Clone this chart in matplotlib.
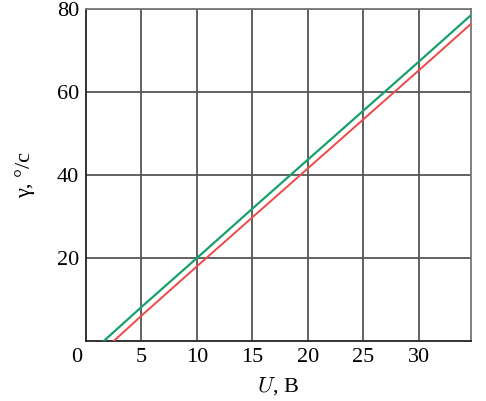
import matplotlib
matplotlib.use("Agg")
import matplotlib.pyplot as plt

plt.rcParams['font.family'] = ['Liberation Serif', 'DejaVu Serif']
plt.rcParams['mathtext.fontset'] = 'cm'

# green curve
u_green = [1.6, 5, 10, 15, 20, 25, 30, 34.7]
g_green = [0, 8.2, 20.0, 31.9, 43.7, 55.5, 67.3, 78.5]
# red curve
u_red = [2.5, 5, 10, 15, 20, 25, 30, 34.7]
g_red = [0, 6.1, 18.0, 29.8, 41.6, 53.4, 65.2, 76.4]

x_ticks = [5, 10, 15, 20, 25, 30]
y_ticks = [20, 40, 60, 80]

fig = plt.figure(figsize=(4.86, 4.01), dpi=100)
ax = fig.add_axes([0.177, 0.1496, 0.792, 0.828])

ax.plot(u_green, g_green, color='#17a06a', lw=1.6, zorder=3)
ax.plot(u_red, g_red, color='#f04848', lw=1.4, zorder=3)

ax.set_xlim(0, 34.7)
ax.set_ylim(0, 80)
ax.set_xticks(x_ticks)
ax.set_yticks(y_ticks)
ax.tick_params(length=0, labelsize=16, pad=5)
ax.grid(True, color='#555555', lw=1.3)
for s in ['top', 'right']:
    ax.spines[s].set_color('#777777')
for s in ['left', 'bottom']:
    ax.spines[s].set_color('#222222')
for s in ax.spines.values():
    s.set_linewidth(1.3)

ax.text(-0.8, -1.6, '0', fontsize=16, ha='center', va='top')

ax.set_xlabel(r'$U$, В', fontsize=16, labelpad=6)
ax.set_ylabel('γ, °/с', fontsize=16, labelpad=16)

fig.savefig('out.png', dpi=100)
